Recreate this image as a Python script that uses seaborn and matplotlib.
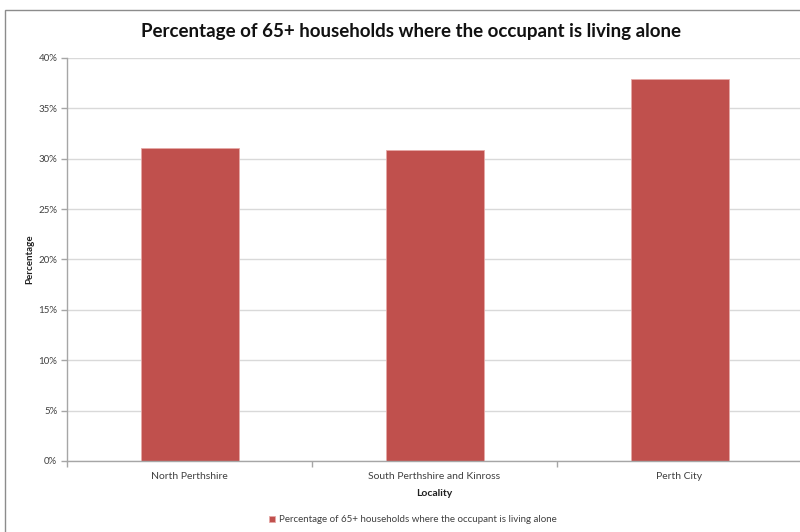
import matplotlib
matplotlib.use("Agg")
import matplotlib.pyplot as plt
import matplotlib.ticker as mticker
from matplotlib.patches import Rectangle
import seaborn as sns
import pandas as pd

# -------------------------------------------------------
# Data
# -------------------------------------------------------
localities = ["North Perthshire", "South Perthshire and Kinross", "Perth City"]
pct_alone = [31.05, 30.85, 37.9]
series_name = "Percentage of 65+ households where the occupant is living alone"

df = pd.DataFrame({"Locality": localities, "Percentage": pct_alone})

sns.set_theme(style="white")
plt.rcParams["font.family"] = ["Lato", "DejaVu Sans"]

BAR = "#C0504D"
GRID = "#D9D9D9"
AXC = "#A6A6A6"

fig = plt.figure(figsize=(8, 5.32), dpi=100)
ax = fig.add_axes([67 / 800, 1 - 461 / 532, 735 / 800, (461 - 58) / 532])

sns.barplot(data=df, x="Locality", y="Percentage", color=BAR, width=0.4,
            saturation=1, edgecolor="#E6A9A7", linewidth=0.6, ax=ax,
            label=series_name)

ax.set_ylim(0, 40)
ax.set_xlim(-0.5, 2.5)
ax.yaxis.set_major_locator(mticker.MultipleLocator(5))
ax.yaxis.set_major_formatter(mticker.FuncFormatter(lambda v, _: f"{v:.0f}%"))
ax.grid(axis="y", color=GRID, linewidth=1)
ax.set_axisbelow(True)

for s in ["top", "right"]:
    ax.spines[s].set_visible(False)
for s in ["left", "bottom"]:
    ax.spines[s].set_color(AXC)
    ax.spines[s].set_linewidth(1)

ax.tick_params(axis="y", length=4, width=1, color=AXC, labelsize=7,
               labelcolor="#404040", pad=3, left=True)
ax.set_xticks([-0.5, 0.5, 1.5, 2.5], minor=True)
ax.tick_params(axis="x", which="major", length=0, labelsize=7.5,
               labelcolor="#404040", pad=8)
ax.tick_params(axis="x", which="minor", length=4, width=1, color=AXC,
               bottom=True)

ax.set_xlabel("Locality", fontsize=7.5, fontweight="bold", labelpad=6,
              color="#202020")
ax.set_ylabel("Percentage", fontsize=7, fontweight="bold", labelpad=3,
              color="#202020")

fig.text(411 / 800, 1 - 32 / 532,
         "Percentage of 65+ households where the occupant is living alone",
         ha="center", va="center", fontsize=13.5, fontweight="bold",
         color="#111111")

handles, labels = ax.get_legend_handles_labels()
if ax.get_legend() is not None:
    ax.get_legend().remove()
leg = fig.legend(handles, labels, loc="center",
                 bbox_to_anchor=(413 / 800, 1 - 520 / 532),
                 frameon=False, fontsize=7, handlelength=0.6, handleheight=0.6,
                 handletextpad=0.4)
for t in leg.get_texts():
    t.set_color("#404040")

# outer chart frame
fig.patches.append(Rectangle((5 / 800, -0.1), 1.2, 1.1 - 10 / 532,
                             transform=fig.transFigure, fill=False,
                             edgecolor="#8C8C8C", linewidth=1))

fig.savefig("out.png", dpi=100)
plt.close()
